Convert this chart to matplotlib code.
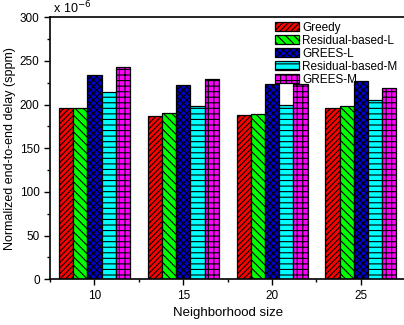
import matplotlib.pyplot as plt
import numpy as np
from matplotlib.ticker import MultipleLocator

# neighborhood sizes and delay values (x 10^-6)
sizes = [10, 15, 20, 25]
greedy = [195.5, 187, 188, 196.5]
resid_l = [196, 190.5, 189.5, 198.5]
grees_l = [233.5, 222.5, 223.5, 226.5]
resid_m = [214, 198.5, 199.5, 205.5]
grees_m = [243.5, 229.5, 223.5, 219]

labels = ["Greedy", "Residual-based-L", "GREES-L", "Residual-based-M", "GREES-M"]
colors = ["#ff0000", "#00ff00", "#0000cc", "#00ffff", "#ff00ff"]
hatches = ["//////", "\\\\\\\\", "xxxxx", "---", "+++"]
series = [greedy, resid_l, grees_l, resid_m, grees_m]

plt.rcParams['font.family'] = ['Liberation Sans', 'DejaVu Sans']
plt.rcParams['hatch.linewidth'] = 0.8

fig = plt.figure(figsize=(4.04, 3.25), dpi=100)
ax = fig.add_axes([0.124, 0.141, 0.879, 0.806])

w = 0.8
x = np.array(sizes)
for i, (vals, lab) in enumerate(zip(series, labels)):
    ax.bar(x + (i - 2) * w, vals, width=w, color=colors[i], edgecolor="black",
           hatch=hatches[i], linewidth=0.9, label=lab)

ax.set_xlim(7.5, 27.5)
ax.set_ylim(0, 300)
ax.set_xticks(sizes)
ax.xaxis.set_minor_locator(MultipleLocator(2.5))
ax.yaxis.set_major_locator(MultipleLocator(50))
ax.yaxis.set_minor_locator(MultipleLocator(25))
ax.tick_params(direction="out", labelsize=8.5, length=4, width=1)
ax.tick_params(which="minor", direction="out", length=2.5, width=1)
for s in ["left", "bottom", "top"]:
    ax.spines[s].set_linewidth(1.2)
ax.spines["right"].set_visible(False)

ax.set_xlabel("Neighborhood size", fontsize=9.5)
ax.set_ylabel("Normalized end-to-end delay (sppm)", fontsize=9, labelpad=3)
ax.text(0.0, 1.005, " x 10$^{-6}$", transform=ax.transAxes, fontsize=9, va="bottom", ha="left")

ax.legend(loc="upper left", bbox_to_anchor=(0.62, 1.0), frameon=False, fontsize=8.5,
          handlelength=2.0, handleheight=0.8, labelspacing=0.08, handletextpad=0.3,
          borderaxespad=0.0)

plt.savefig("out.png", dpi=100)
